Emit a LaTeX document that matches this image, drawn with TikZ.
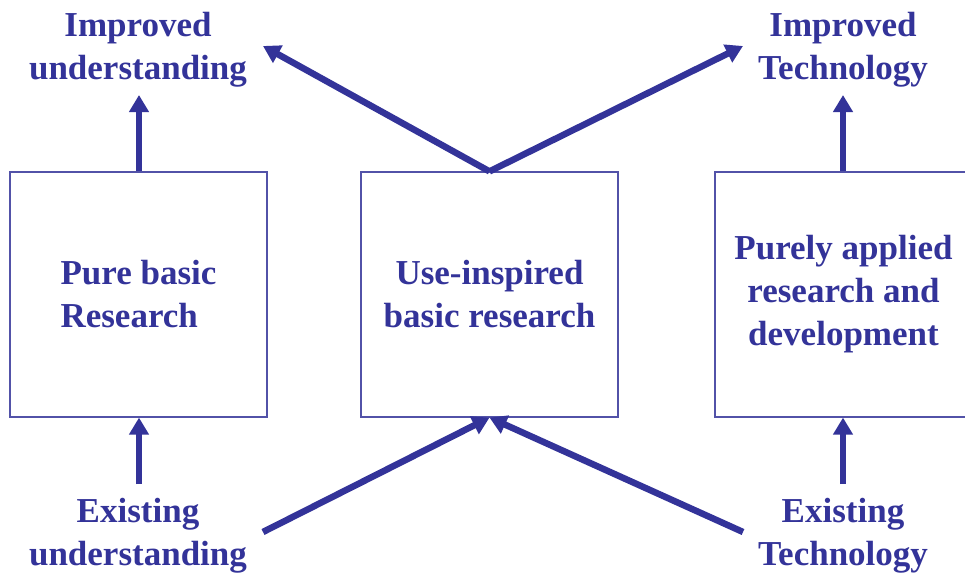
\documentclass[tikz,border=0pt]{standalone}
\usepackage{fontspec}
\setmainfont{Liberation Serif}
\usetikzlibrary{arrows.meta}
\definecolor{navy}{HTML}{333399}
\tikzset{
  lbl/.style={text=navy, font=\bfseries\fontsize{35}{43}\selectfont, align=center, inner sep=0pt},
  boxnode/.style={draw=navy!85, line width=1.2pt, minimum width=257pt, minimum height=245pt, inner sep=0pt,
    text=navy, font=\bfseries\fontsize{35}{43}\selectfont},
  bigarrow/.style={draw=navy, line width=6.5pt, -{Triangle[length=17pt,width=19pt]}}
}
\begin{document}
\begin{tikzpicture}[x=1pt,y=-1pt]
\useasboundingbox (0,0) rectangle (965,578);
\fill[white] (0,0) rectangle (965,578);
% boxes
\node[boxnode, align=left] (pure) at (138.5,294.5) {Pure basic\\Research};
\node[boxnode, align=center] (use) at (489.5,294.5) {Use-inspired\\basic research};
\node[boxnode, align=center] (appl) at (843.5,294.5) {Purely applied\\research and\\development};
% labels
\node[lbl] (impu) at (138,50) {Improved\\understanding};
\node[lbl] (impt) at (843,50) {Improved\\Technology};
\node[lbl] (exu) at (138,535.5) {Existing\\understanding};
\node[lbl] (ext) at (843,535.5) {Existing\\Technology};
% arrow end points
\coordinate (tipul) at (139,95);
\coordinate (tipur) at (843,95);
\coordinate (tipdl) at (263,46);
\coordinate (tipdr) at (743,46);
\coordinate (startll) at (263,532);
\coordinate (startlr) at (743,532);
\coordinate (botl) at (139,484);
\coordinate (botr) at (843,484);
% arrows
\draw[bigarrow] (pure.north -| tipul) -- (tipul);
\draw[bigarrow] (appl.north -| tipur) -- (tipur);
\draw[bigarrow] (use.north) -- (tipdl);
\draw[bigarrow] (use.north) -- (tipdr);
\draw[bigarrow] (botl) -- (pure.south -| botl);
\draw[bigarrow] (botr) -- (appl.south -| botr);
\draw[bigarrow] (startll) -- (use.south);
\draw[bigarrow] (startlr) -- (use.south);
\end{tikzpicture}
\end{document}
